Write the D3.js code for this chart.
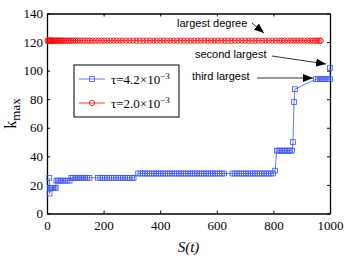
<!DOCTYPE html>
<html>
<head>
<meta charset="utf-8">
<script src="https://cdn.jsdelivr.net/npm/d3@7"></script>
<style>
    body { margin: 0; background: #fff; }
    svg { display: block; }
</style>
</head>
<body>
<div id="chart"></div>
<script>
'use strict';

// tau = 4.2e-3 (blue squares), one line of S per line of k
const blueS = [
    8, 9,
    10, 13, 17, 22, 27, 31,
    33, 38, 44, 50, 57, 64, 72, 80,
    86, 92, 100, 107, 114, 121, 128, 135, 142, 150,
    180, 188, 196, 204, 212, 220, 228, 236, 244, 252,
    260, 268, 276, 284, 292, 300, 306,
    322, 330, 338, 346, 354, 362, 370, 378, 386, 394,
    402, 410, 418, 426, 434, 442, 450, 458, 466, 474,
    482, 490, 498, 506, 514, 522, 530, 538, 546, 554,
    562, 570, 578, 586, 594, 602, 610, 618, 626,
    655, 663, 671, 679, 687, 695, 703, 711, 719, 727,
    735, 743, 751, 759, 767, 775, 783, 791, 799,
    806,
    812, 818, 824, 830, 836, 842, 848, 854, 860, 866,
    869, 873, 876,
    950, 957, 964, 971, 978, 985, 992, 1000,
    1000
];
const blueK = [
    25, 14,
    18, 18, 18, 18, 18, 18,
    23, 23, 23, 23, 23, 23, 23, 23,
    25, 25, 25, 25, 25, 25, 25, 25, 25, 25,
    25, 25, 25, 25, 25, 25, 25, 25, 25, 25,
    25, 25, 25, 25, 25, 25, 25,
    28, 28, 28, 28, 28, 28, 28, 28, 28, 28,
    28, 28, 28, 28, 28, 28, 28, 28, 28, 28,
    28, 28, 28, 28, 28, 28, 28, 28, 28, 28,
    28, 28, 28, 28, 28, 28, 28, 28, 28,
    28, 28, 28, 28, 28, 28, 28, 28, 28, 28,
    28, 28, 28, 28, 28, 28, 28, 28, 28,
    30,
    44, 44, 44, 44, 44, 44, 44, 44, 44, 44,
    50, 78, 87,
    94, 94, 94, 94, 94, 94, 94, 94,
    102
];

// tau = 2.0e-3 (red circles)
const redS = [2, 5, 8, 11, 14, 17, 20, 24, 28, 32, 36, 40, 45, 50, 55, 60, 66, 72, 78, 85, 92,
    100, 108, 116, 125, 134, 143, 152, 162, 172, 182, 192, 202, 213, 224, 235, 246, 257, 268,
    280, 292, 304, 316, 328, 340, 352, 364, 376, 388, 400, 412, 424, 436, 448, 460, 472, 484,
    496, 508, 520, 532, 544, 556, 568, 580, 592, 604, 616, 628, 640, 652, 664, 676, 688, 700,
    712, 724, 736, 748, 760, 772, 784, 796, 808, 820, 830, 840, 850, 860, 870, 880, 890, 900,
    910, 920, 930, 940, 948, 955, 962, 967];
const redK = redS.map(() => 121);

const xTicks = [0, 200, 400, 600, 800, 1000];
const yTicks = [0, 20, 40, 60, 80, 100, 120, 140];

const legendItems = [
    { mantissa: '4.2', color: '#3b55f6', shape: 'square' },
    { mantissa: '2.0', color: '#ff0000', shape: 'circle' }
];

const notes = [
    { text: 'largest degree', x: 177, y: 27, from: [252, 23], to: [264, 33] },
    { text: 'second largest', x: 195, y: 58, from: [272, 56], to: [326, 64] },
    { text: 'third largest', x: 192, y: 80, from: [257, 78], to: [313, 78] }
];

const width = 346, height = 271;
const margin = { top: 13.5, right: 16, bottom: 57.5, left: 47 };
const plotW = width - margin.left - margin.right;
const plotH = height - margin.top - margin.bottom;

const x = d3.scaleLinear().domain([0, 1000]).range([0, plotW]);
const y = d3.scaleLinear().domain([0, 140]).range([plotH, 0]);

const svg = d3.select('#chart').append('svg')
    .attr('width', width)
    .attr('height', height);

svg.append('defs').append('marker')
    .attr('id', 'head')
    .attr('viewBox', '0 0 10 8')
    .attr('refX', 10)
    .attr('refY', 4)
    .attr('markerWidth', 10)
    .attr('markerHeight', 8)
    .attr('markerUnits', 'userSpaceOnUse')
    .attr('orient', 'auto')
    .append('path')
    .attr('d', 'M0,0L10,4L0,8Z')
    .attr('fill', '#000');

const g = svg.append('g')
    .attr('transform', `translate(${margin.left},${margin.top})`);

drawAxes();
drawSeries(redS, redK, '#ff0000', 'circle');
drawSeries(blueS, blueK, '#3b55f6', 'square');
drawLegend();
drawNotes();

function drawAxes() {
    const serif = 'Liberation Serif, Times New Roman, serif';

    const bottom = g.append('g')
        .attr('transform', `translate(0,${plotH})`)
        .call(d3.axisBottom(x).tickValues(xTicks).tickFormat(d3.format('d'))
            .tickSize(-3).tickSizeOuter(0).tickPadding(7));
    const left = g.append('g')
        .call(d3.axisLeft(y).tickValues(yTicks).tickSize(-3).tickSizeOuter(0).tickPadding(4));
    g.append('g')
        .call(d3.axisTop(x).tickValues(xTicks).tickSize(-3).tickSizeOuter(0).tickFormat(''));
    g.append('g')
        .attr('transform', `translate(${plotW},0)`)
        .call(d3.axisRight(y).tickValues(yTicks).tickSize(-3).tickSizeOuter(0).tickFormat(''));

    g.selectAll('.domain').attr('stroke', '#000').attr('stroke-width', 1.3);
    g.selectAll('.tick line').attr('stroke', '#000');
    [bottom, left].forEach(a => a.selectAll('text')
        .attr('font-family', serif)
        .attr('font-size', 13)
        .attr('fill', '#000'));

    svg.append('text')
        .attr('x', margin.left + plotW / 2)
        .attr('y', 252)
        .attr('text-anchor', 'middle')
        .attr('font-family', serif)
        .attr('font-style', 'italic')
        .attr('font-size', 15)
        .text('S(t)');

    const yl = svg.append('text')
        .attr('transform', `translate(16,${margin.top + plotH / 2}) rotate(-90)`)
        .attr('text-anchor', 'middle')
        .attr('font-family', serif)
        .attr('font-size', 16);
    yl.append('tspan').text('k');
    yl.append('tspan').attr('dy', 4).attr('font-size', 13).text('max');
}

function drawSeries(sValues, kValues, color, shape) {
    const pts = sValues.map((s, i) => [x(s), y(kValues[i])]);
    const layer = g.append('g');

    layer.append('path')
        .attr('d', d3.line()(pts))
        .attr('fill', 'none')
        .attr('stroke', color)
        .attr('stroke-width', 0.8);

    addMarkers(layer, pts, color, shape);
}

function addMarkers(layer, pts, color, shape) {
    if (shape === 'circle') {
        layer.selectAll('circle').data(pts).join('circle')
            .attr('cx', d => d[0])
            .attr('cy', d => d[1])
            .attr('r', 2.7)
            .attr('fill', 'none')
            .attr('stroke', color)
            .attr('stroke-width', 0.8);
    } else {
        layer.selectAll('rect').data(pts).join('rect')
            .attr('x', d => d[0] - 2.4)
            .attr('y', d => d[1] - 2.4)
            .attr('width', 4.8)
            .attr('height', 4.8)
            .attr('fill', 'none')
            .attr('stroke', color)
            .attr('stroke-width', 0.8);
    }
}

function drawLegend() {
    const lg = svg.append('g').attr('transform', 'translate(74,65)');

    lg.append('rect')
        .attr('width', 105)
        .attr('height', 52)
        .attr('fill', '#fff')
        .attr('stroke', '#000')
        .attr('stroke-width', 1);

    legendItems.forEach((item, i) => {
        const yy = 14 + i * 24;
        const row = lg.append('g');

        row.append('line')
            .attr('x1', 5).attr('x2', 31)
            .attr('y1', yy).attr('y2', yy)
            .attr('stroke', item.color)
            .attr('stroke-width', 0.8);

        addMarkers(row, [[18, yy]], item.color, item.shape);

        const t = row.append('text')
            .attr('x', 37)
            .attr('y', yy + 4.5)
            .attr('font-family', 'Liberation Serif, Times New Roman, serif')
            .attr('font-size', 13);
        t.append('tspan').text(`\u03c4=${item.mantissa}\u00d710`);
        t.append('tspan').attr('dy', -5).attr('font-size', 9).text('\u22123');
    });
}

function drawNotes() {
    notes.forEach(n => {
        svg.append('text')
            .attr('x', n.x)
            .attr('y', n.y)
            .attr('font-family', 'Liberation Sans, Arial, sans-serif')
            .attr('font-size', 11)
            .text(n.text);

        svg.append('line')
            .attr('x1', n.from[0]).attr('y1', n.from[1])
            .attr('x2', n.to[0]).attr('y2', n.to[1])
            .attr('stroke', '#000')
            .attr('stroke-width', 0.8)
            .attr('marker-end', 'url(#head)');
    });
}
</script>
</body>
</html>
